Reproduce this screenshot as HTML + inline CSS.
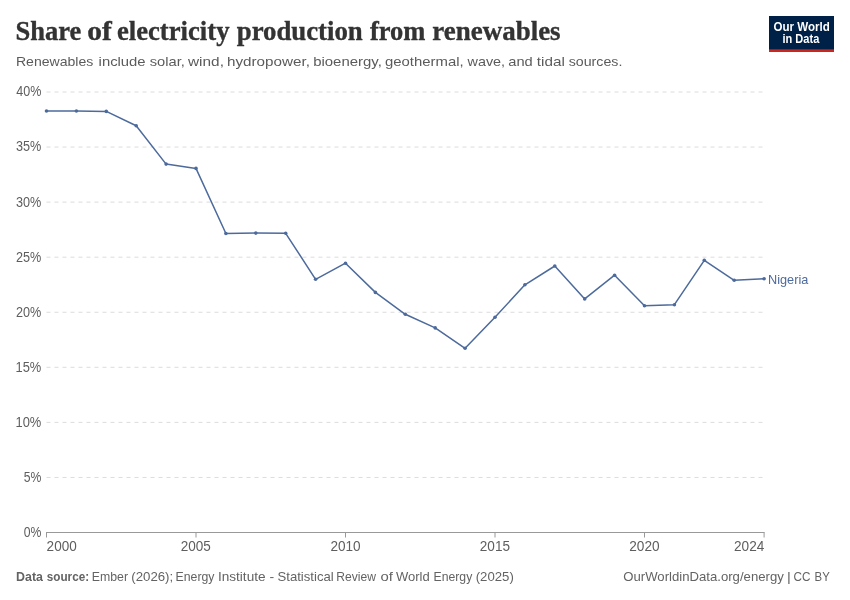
<!DOCTYPE html>
<html lang="en"><head><meta charset="utf-8"><title>Share of electricity production from renewables</title>
<style>
html,body{margin:0;padding:0;background:#fff;}
body{width:850px;height:600px;overflow:hidden;}
svg{display:block;font-family:"Liberation Sans",sans-serif;}
.title{font-family:"Liberation Serif",serif;font-weight:700;font-size:28.2px;fill:#333;stroke:#333;stroke-width:0.35px;}
.sub{font-size:13.6px;fill:#5b5b5b;}
.ax text{font-size:13.9px;fill:#5e5e5e;}
.grid line{stroke:#dcdcdc;stroke-width:1;stroke-dasharray:4 4;}
.foot{font-size:13.0px;fill:#636363;}
.lbl{font-size:13.3px;fill:#4c6a9c;}
.logo{font-size:12.0px;font-weight:700;fill:#fff;}
</style></head><body>
<svg width="850" height="600" viewBox="0 0 850 600">
<rect width="850" height="600" fill="#fff"/>
<g><text class="title" y="40.1"><tspan x="15.39" textLength="65.89" lengthAdjust="spacingAndGlyphs">Share</tspan> <tspan x="87.36" textLength="24.51" lengthAdjust="spacingAndGlyphs">of</tspan> <tspan x="116.89" textLength="112.67" lengthAdjust="spacingAndGlyphs">electricity</tspan> <tspan x="236.76" textLength="125.99" lengthAdjust="spacingAndGlyphs">production</tspan> <tspan x="370.00" textLength="55.44" lengthAdjust="spacingAndGlyphs">from</tspan> <tspan x="432.28" textLength="128.33" lengthAdjust="spacingAndGlyphs">renewables</tspan></text></g>
<g><text class="sub" y="66.3"><tspan x="15.97" textLength="77.36" lengthAdjust="spacingAndGlyphs">Renewables</tspan> <tspan x="98.58" textLength="47.05" lengthAdjust="spacingAndGlyphs">include</tspan> <tspan x="149.73" textLength="35.12" lengthAdjust="spacingAndGlyphs">solar,</tspan> <tspan x="188.00" textLength="35.90" lengthAdjust="spacingAndGlyphs">wind,</tspan> <tspan x="226.96" textLength="82.93" lengthAdjust="spacingAndGlyphs">hydropower,</tspan> <tspan x="313.18" textLength="68.68" lengthAdjust="spacingAndGlyphs">bioenergy,</tspan> <tspan x="384.95" textLength="78.70" lengthAdjust="spacingAndGlyphs">geothermal,</tspan> <tspan x="467.50" textLength="37.57" lengthAdjust="spacingAndGlyphs">wave,</tspan> <tspan x="508.26" textLength="24.48" lengthAdjust="spacingAndGlyphs">and</tspan> <tspan x="536.80" textLength="27.97" lengthAdjust="spacingAndGlyphs">tidal</tspan> <tspan x="568.74" textLength="53.64" lengthAdjust="spacingAndGlyphs">sources.</tspan></text></g>
<g>
<rect x="769" y="16" width="65" height="36" fill="#002147"/>
<rect x="769" y="49.3" width="65" height="2.7" fill="#ce261e"/>
<text class="logo" y="30.8"><tspan x="773.42" textLength="56.36" lengthAdjust="spacingAndGlyphs">Our World</tspan></text><text class="logo" y="42.7"><tspan x="782.51" textLength="36.77" lengthAdjust="spacingAndGlyphs">in Data</tspan></text>
</g>
<g class="grid"><line x1="46.5" x2="764" y1="477.44" y2="477.44"/><line x1="46.5" x2="764" y1="422.38" y2="422.38"/><line x1="46.5" x2="764" y1="367.31" y2="367.31"/><line x1="46.5" x2="764" y1="312.25" y2="312.25"/><line x1="46.5" x2="764" y1="257.19" y2="257.19"/><line x1="46.5" x2="764" y1="202.12" y2="202.12"/><line x1="46.5" x2="764" y1="147.06" y2="147.06"/><line x1="46.5" x2="764" y1="92.00" y2="92.00"/></g>
<g class="ax"><text x="23.71" y="536.90" textLength="17.63" lengthAdjust="spacingAndGlyphs">0%</text><text x="23.71" y="481.84" textLength="17.63" lengthAdjust="spacingAndGlyphs">5%</text><text x="15.52" y="426.77" textLength="25.82" lengthAdjust="spacingAndGlyphs">10%</text><text x="15.52" y="371.71" textLength="25.82" lengthAdjust="spacingAndGlyphs">15%</text><text x="15.99" y="316.65" textLength="25.34" lengthAdjust="spacingAndGlyphs">20%</text><text x="15.99" y="261.59" textLength="25.34" lengthAdjust="spacingAndGlyphs">25%</text><text x="15.99" y="206.53" textLength="25.34" lengthAdjust="spacingAndGlyphs">30%</text><text x="15.99" y="151.46" textLength="25.34" lengthAdjust="spacingAndGlyphs">35%</text><text x="16.22" y="96.40" textLength="25.11" lengthAdjust="spacingAndGlyphs">40%</text><text x="46.61" y="550.7" textLength="30.08" lengthAdjust="spacingAndGlyphs">2000</text><text x="180.81" y="550.7" textLength="30.08" lengthAdjust="spacingAndGlyphs">2005</text><text x="330.41" y="550.7" textLength="30.19" lengthAdjust="spacingAndGlyphs">2010</text><text x="479.81" y="550.7" textLength="30.19" lengthAdjust="spacingAndGlyphs">2015</text><text x="629.31" y="550.7" textLength="30.29" lengthAdjust="spacingAndGlyphs">2020</text><text x="734.01" y="550.7" textLength="30.29" lengthAdjust="spacingAndGlyphs">2024</text></g>
<g stroke="#999" stroke-width="1"><line x1="46" x2="764.6" y1="532.5" y2="532.5"/><line x1="46.5" x2="46.5" y1="532.5" y2="537.5"/><line x1="196.0" x2="196.0" y1="532.5" y2="537.5"/><line x1="345.5" x2="345.5" y1="532.5" y2="537.5"/><line x1="495.0" x2="495.0" y1="532.5" y2="537.5"/><line x1="644.5" x2="644.5" y1="532.5" y2="537.5"/><line x1="764.1" x2="764.1" y1="532.5" y2="537.5"/></g>
<path d="M46.5,111.0 L76.4,111.0 L106.3,111.4 L136.2,125.7 L166.1,164.1 L196.0,168.4 L225.9,233.5 L255.8,233.1 L285.7,233.3 L315.6,279.3 L345.5,263.2 L375.4,292.4 L405.3,314.3 L435.2,327.9 L465.1,348.3 L495.0,317.3 L524.9,284.8 L554.8,266.0 L584.7,298.9 L614.6,275.2 L644.5,305.8 L674.4,304.7 L704.3,260.3 L734.2,280.3 L764.1,278.8" fill="none" stroke="#4c6a9c" stroke-width="1.5" stroke-linejoin="round" stroke-linecap="round"/>
<g fill="#4c6a9c"><circle cx="46.5" cy="111.0" r="1.8"/><circle cx="76.4" cy="111.0" r="1.8"/><circle cx="106.3" cy="111.4" r="1.8"/><circle cx="136.2" cy="125.7" r="1.8"/><circle cx="166.1" cy="164.1" r="1.8"/><circle cx="196.0" cy="168.4" r="1.8"/><circle cx="225.9" cy="233.5" r="1.8"/><circle cx="255.8" cy="233.1" r="1.8"/><circle cx="285.7" cy="233.3" r="1.8"/><circle cx="315.6" cy="279.3" r="1.8"/><circle cx="345.5" cy="263.2" r="1.8"/><circle cx="375.4" cy="292.4" r="1.8"/><circle cx="405.3" cy="314.3" r="1.8"/><circle cx="435.2" cy="327.9" r="1.8"/><circle cx="465.1" cy="348.3" r="1.8"/><circle cx="495.0" cy="317.3" r="1.8"/><circle cx="524.9" cy="284.8" r="1.8"/><circle cx="554.8" cy="266.0" r="1.8"/><circle cx="584.7" cy="298.9" r="1.8"/><circle cx="614.6" cy="275.2" r="1.8"/><circle cx="644.5" cy="305.8" r="1.8"/><circle cx="674.4" cy="304.7" r="1.8"/><circle cx="704.3" cy="260.3" r="1.8"/><circle cx="734.2" cy="280.3" r="1.8"/><circle cx="764.1" cy="278.8" r="1.8"/></g>
<text class="lbl" y="283.5"><tspan x="768.04" textLength="40.24" lengthAdjust="spacingAndGlyphs">Nigeria</tspan></text>
<g><text class="foot" y="580.8" font-weight="700"><tspan x="16.09" textLength="26.86" lengthAdjust="spacingAndGlyphs">Data</tspan> <tspan x="46.75" textLength="42.35" lengthAdjust="spacingAndGlyphs">source:</tspan></text><text class="foot" y="580.8"><tspan x="91.86" textLength="36.19" lengthAdjust="spacingAndGlyphs">Ember</tspan> <tspan x="131.24" textLength="41.99" lengthAdjust="spacingAndGlyphs">(2026);</tspan> <tspan x="175.56" textLength="38.90" lengthAdjust="spacingAndGlyphs">Energy</tspan> <tspan x="217.95" textLength="47.60" lengthAdjust="spacingAndGlyphs">Institute</tspan> <tspan x="269.46" textLength="4.68" lengthAdjust="spacingAndGlyphs">-</tspan> <tspan x="277.49" textLength="56.20" lengthAdjust="spacingAndGlyphs">Statistical</tspan> <tspan x="336.27" textLength="39.61" lengthAdjust="spacingAndGlyphs">Review</tspan> <tspan x="380.43" textLength="12.39" lengthAdjust="spacingAndGlyphs">of</tspan> <tspan x="396.00" textLength="33.72" lengthAdjust="spacingAndGlyphs">World</tspan> <tspan x="433.56" textLength="38.70" lengthAdjust="spacingAndGlyphs">Energy</tspan> <tspan x="475.74" textLength="38.10" lengthAdjust="spacingAndGlyphs">(2025)</tspan> <tspan x="623.29" textLength="160.49" lengthAdjust="spacingAndGlyphs">OurWorldinData.org/energy</tspan> <tspan x="787.08" textLength="3.80" lengthAdjust="spacingAndGlyphs">|</tspan> <tspan x="793.55" textLength="16.93" lengthAdjust="spacingAndGlyphs">CC</tspan> <tspan x="814.62" textLength="15.18" lengthAdjust="spacingAndGlyphs">BY</tspan></text></g>
</svg>
</body></html>
